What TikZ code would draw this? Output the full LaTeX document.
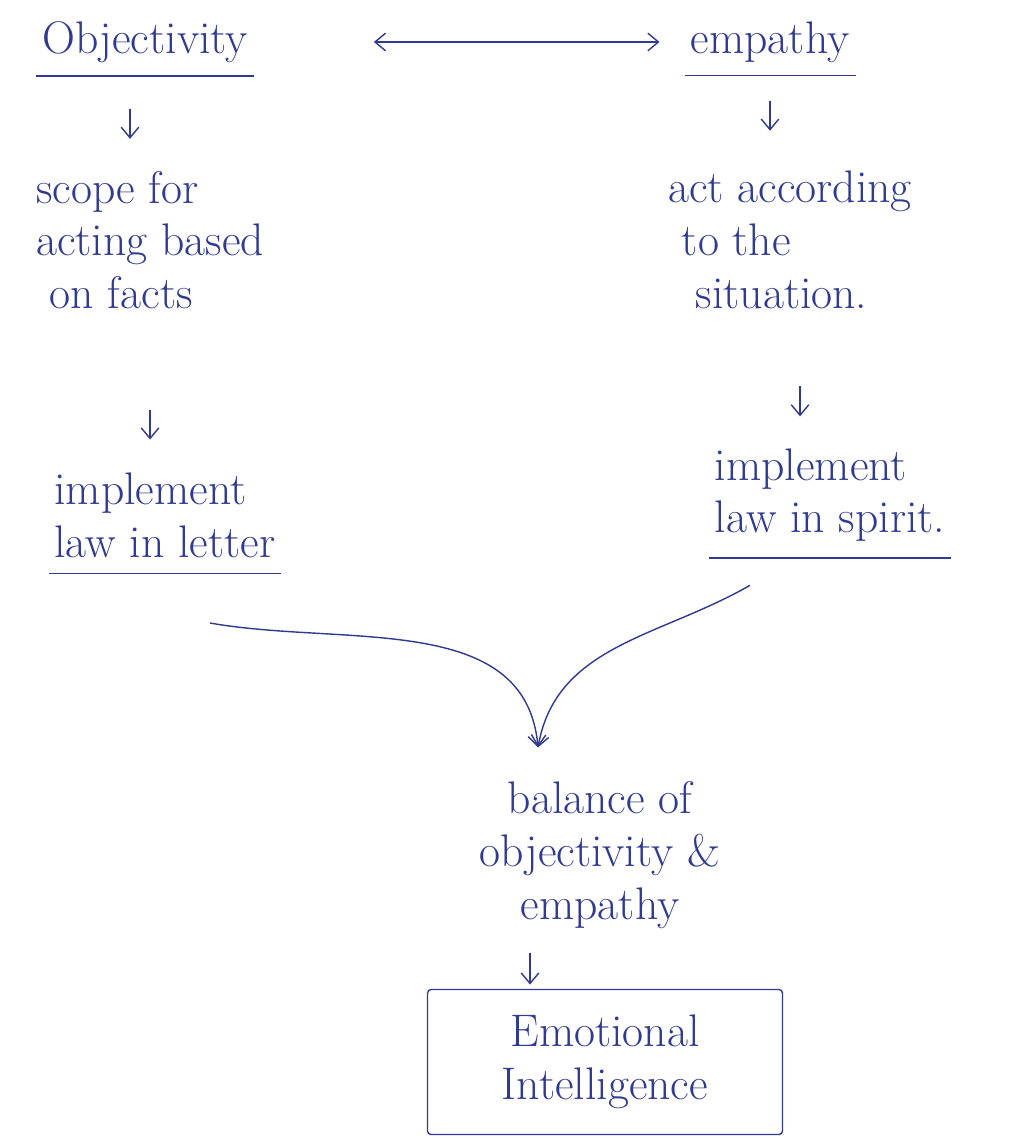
\documentclass[tikz,border=0pt]{standalone}
\usepackage{tikz}
\usetikzlibrary{arrows.meta,positioning}

\definecolor{ink}{RGB}{48,58,145}

\begin{document}
\begin{tikzpicture}[
    x=0.02cm, y=-0.02cm,
    every node/.style={font=\fontsize{26}{30}\selectfont, text=ink},
    note/.style={align=left, inner sep=3pt},
    boxed/.style={draw=ink, thick, rounded corners=2pt, align=center, minimum width=7.1cm, minimum height=2.9cm},
    link/.style={-{Straight Barb[length=6pt, width=10pt]}, thick, draw=ink},
    both/.style={{Straight Barb[length=6pt, width=10pt]}-{Straight Barb[length=6pt, width=10pt]}, thick, draw=ink},
    uline/.style={thick, draw=ink}
]
\useasboundingbox[fill=white] (0,0) rectangle (1034,1141);

% Nodes
\node (obj) at (145,42) {Objectivity};
\node (emp) at (770,42) {empathy};
\node[note] (scope) at (150,240) {scope for\\acting based\\\ on facts};
\node[note] (situ) at (790,240) {act according\\\ to the\\\ \ situation.};
\node[note] (implL) at (165,515) {implement\\law in letter};
\node[note] (implR) at (830,495) {implement\\law in spirit.};
\node[align=center] (bal) at (600,855) {balance of\\objectivity \&\\empathy};
\node[boxed] (ei) at (605,1062) {Emotional\\Intelligence};
\coordinate (meet) at ([shift={(-62,-28)}]bal.north);

% Underlines
\draw[uline] ([yshift=-4pt]obj.south west) -- ([yshift=-4pt]obj.south east);
\draw[uline] ([yshift=-4pt]emp.south west) -- ([yshift=-4pt]emp.south east);
\draw[uline] ([yshift=-6pt]implL.south west) -- ([yshift=-6pt]implL.south east);
\draw[uline] ([yshift=-6pt]implR.south west) -- ([yshift=-6pt]implR.south east);

% Short arrows down
\draw[link] (obj.south) ++(-15,40) -- ++(0,30);
\draw[link] (emp.south) ++(0,32) -- ++(0,30);
\draw[link] (scope.south) ++(0,95) -- ++(0,30);
\draw[link] (situ.south) ++(10,72) -- ++(0,30);
\draw[link] (bal.south) ++(-70,18) -- ++(0,32);

% Paths
\draw[both, shorten <=2.4cm, shorten >=0.5cm] (obj) -- (emp);
\draw[link] ([shift={(45,60)}]implL.south) to[out=-10, in=95] (meet);
\draw[link] ([shift={(-80,38)}]implR.south) to[out=-150, in=80] (meet);

\end{tikzpicture}
\end{document}
